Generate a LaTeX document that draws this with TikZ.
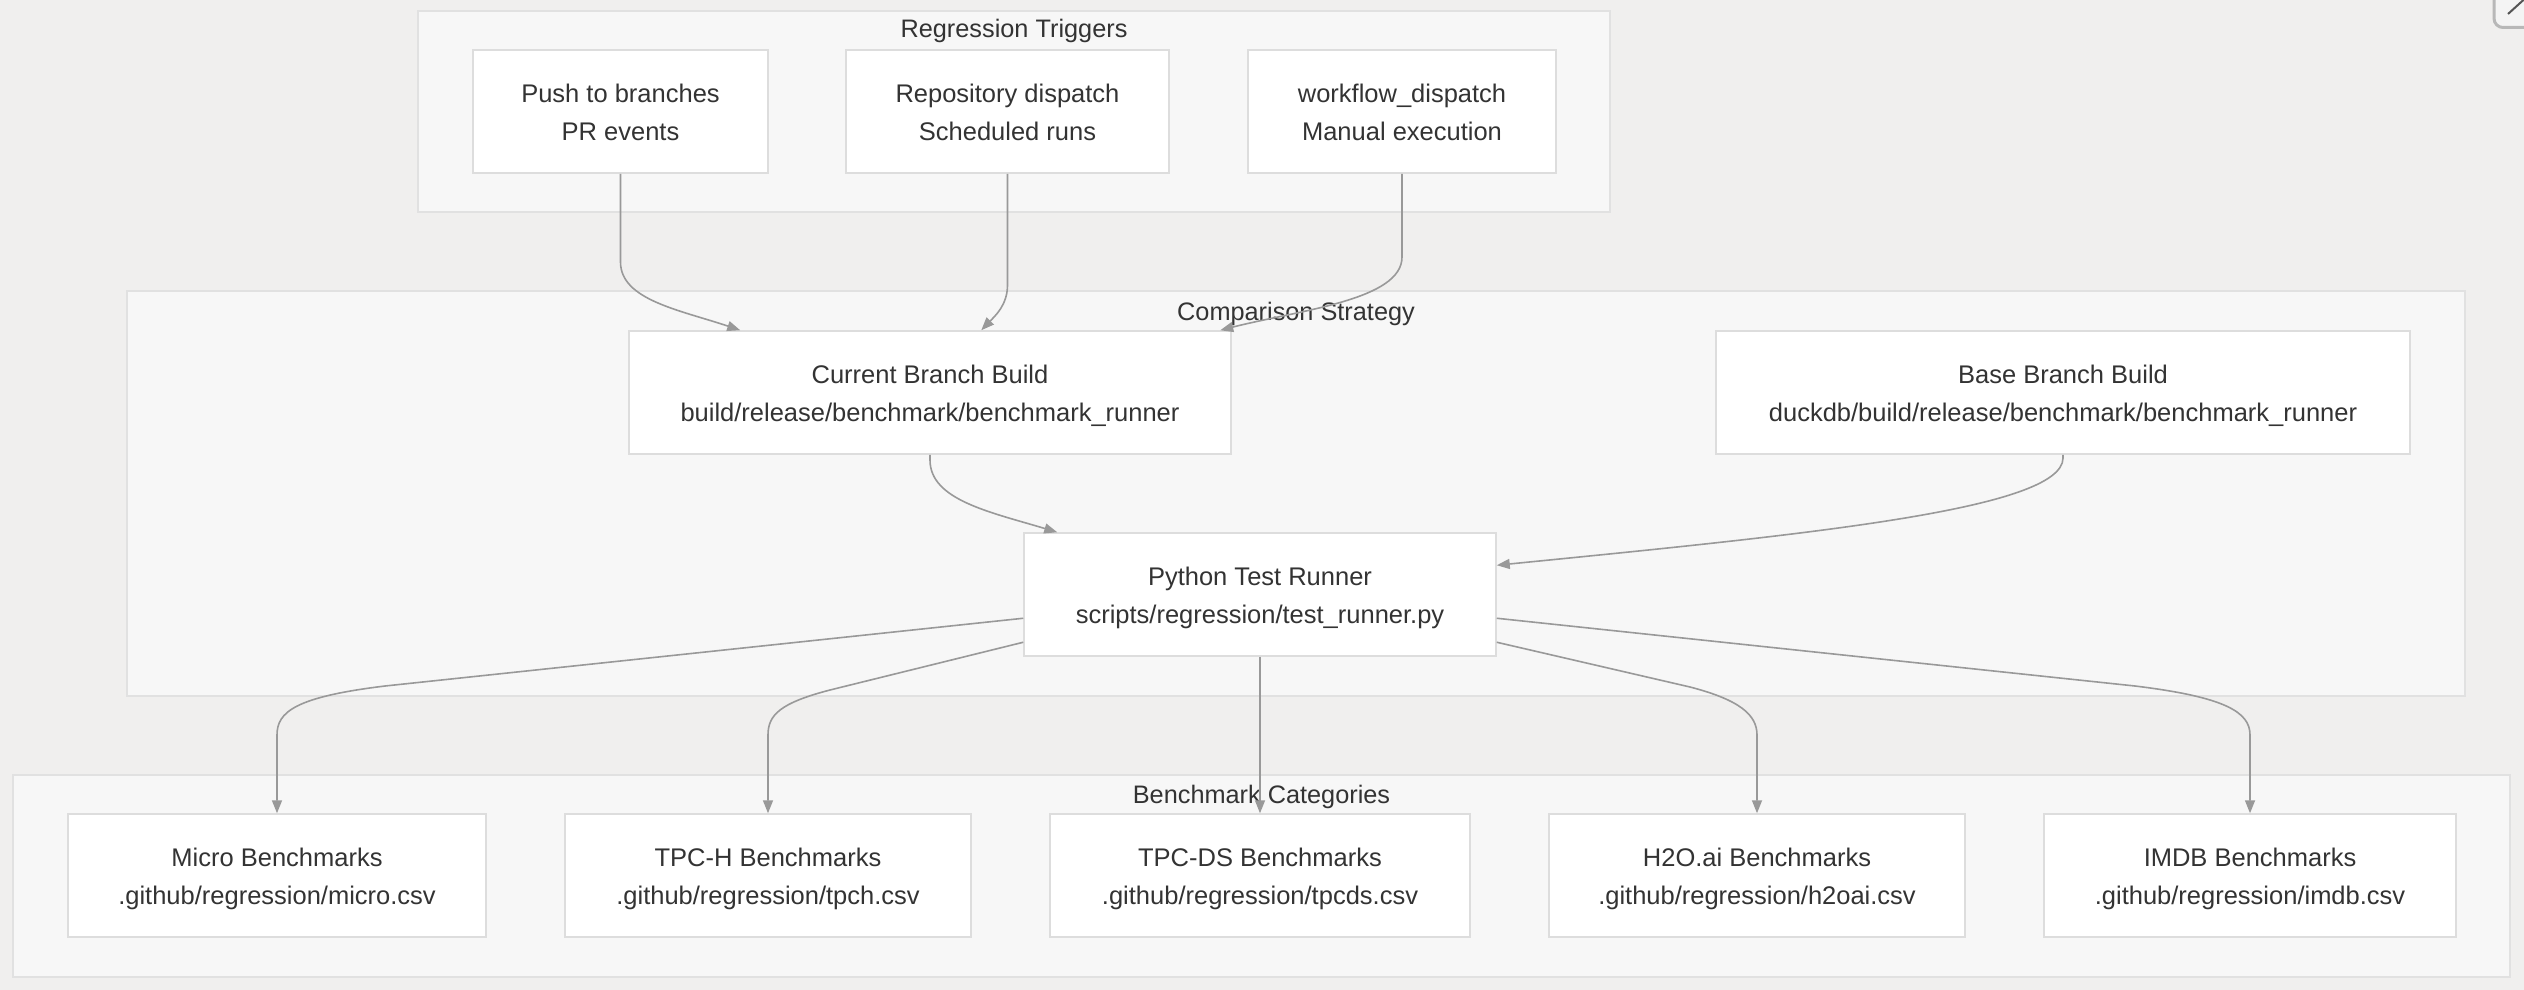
\documentclass[tikz,border=0pt]{standalone}
\usepackage{fontspec}
\setmainfont{Liberation Sans}
\usetikzlibrary{arrows.meta,calc}
\definecolor{bg}{HTML}{F0EFEE}
\definecolor{grpfill}{HTML}{F7F7F7}
\definecolor{grpline}{HTML}{E1E1E1}
\definecolor{nodeline}{HTML}{DDDDDD}
\definecolor{edgecol}{HTML}{999999}
\definecolor{txt}{HTML}{333333}
\definecolor{btnline}{HTML}{B8B8B8}
\definecolor{btnfill}{HTML}{F4F4F4}
\definecolor{btnmark}{HTML}{555555}
\newcommand\twoline[2]{\rule{0pt}{24.5pt}#1\\#2\rule[-5.5pt]{0pt}{5.5pt}}
\begin{document}
\begin{tikzpicture}[x=1pt,y=-1pt,
  grp/.style={draw=grpline, fill=grpfill, line width=1.5pt, inner sep=0pt},
  grptitle/.style={anchor=base, text=txt, inner sep=0pt, font=\fontsize{25.3}{30}\selectfont},
  box/.style={draw=nodeline, fill=white, line width=1.5pt, inner sep=0pt,
    minimum height=123pt, align=center, text=txt, font=\fontsize{25.5}{38}\selectfont},
  conn/.style={draw=edgecol, line width=1.6pt, -{Triangle[length=13pt,width=10pt]}}
]
\useasboundingbox (0,0) rectangle (2524,990);
\fill[bg] (0,0) rectangle (2524,990);

% groups
\node[grp, minimum width=1192pt, minimum height=201pt] (trig) at (1014,111.5) {};
\node[grp, minimum width=2338pt, minimum height=405pt] (comp) at (1296,493.5) {};
\node[grp, minimum width=2497pt, minimum height=202pt] (bench) at (1261.5,876) {};
\node[grptitle] (trigt) at (1014,38) {Regression Triggers};
\node[grptitle] (compt) at (1296,320) {Comparison Strategy};
\node[grptitle] (bencht) at (1261.5,803) {Benchmark Categories};

% trigger nodes
\node[box, minimum width=295pt] (push) at (620.5,111.5) {\twoline{Push to branches}{PR events}};
\node[box, minimum width=323pt] (repo) at (1007.5,111.5) {\twoline{Repository dispatch}{Scheduled runs}};
\node[box, minimum width=308pt] (wf) at (1402,111.5) {\twoline{workflow\_dispatch}{Manual execution}};

% comparison nodes
\node[box, minimum width=602pt] (cur) at (930,392.5) {\twoline{Current Branch Build}{build/release/benchmark/benchmark\_runner}};
\node[box, minimum width=694pt] (base) at (2063,392.5) {\twoline{Base Branch Build}{duckdb/build/release/benchmark/benchmark\_runner}};
\node[box, minimum width=472pt] (run) at (1260,594.5) {\twoline{Python Test Runner}{scripts/regression/test\_runner.py}};

% benchmark nodes
\node[box, minimum width=418pt] (micro) at (277,875.5) {\twoline{Micro Benchmarks}{.github/regression/micro.csv}};
\node[box, minimum width=406pt] (tpch) at (768,875.5) {\twoline{TPC-H Benchmarks}{.github/regression/tpch.csv}};
\node[box, minimum width=420pt] (tpcds) at (1260,875.5) {\twoline{TPC-DS Benchmarks}{.github/regression/tpcds.csv}};
\node[box, minimum width=416pt] (h2o) at (1757,875.5) {\twoline{H2O.ai Benchmarks}{.github/regression/h2oai.csv}};
\node[box, minimum width=412pt] (imdb) at (2250,875.5) {\twoline{IMDB Benchmarks}{.github/regression/imdb.csv}};

% connectors
\draw[conn] (push.south) -- (620.5,262) .. controls (620.5,300) and (680,310) .. ($(cur.north west)+(112,0)$);
\draw[conn] (repo.south) -- (1007.5,285) .. controls (1007.5,305) and (995,316) .. ($(cur.north west)+(353,0)$);
\draw[conn] (wf.south) -- (1402,257) .. controls (1402,300) and (1300,310) .. ($(cur.north west)+(592,0)$);
\draw[conn] (cur.south) -- (930,460) .. controls (930,500) and (990,512) .. ($(run.north west)+(34,0)$);
\draw[conn] (base.south) -- (2063,458) .. controls (2063,510) and (1800,535) .. ($(run.north east)+(0,33)$);
\draw[conn] ($(run.north west)+(0,86)$) -- (385,686) .. controls (295,697) and (277,712) .. (277,735) -- (micro.north);
\draw[conn] ($(run.north west)+(0,110)$) -- (830,690) .. controls (780,703) and (768,715) .. (768,735) -- (tpch.north);
\draw[conn] (run.south) -- (tpcds.north);
\draw[conn] ($(run.north east)+(0,110)$) -- (1690,687) .. controls (1740,700) and (1757,715) .. (1757,735) -- (h2o.north);
\draw[conn] ($(run.north east)+(0,86)$) -- (2135,686) .. controls (2225,697) and (2250,712) .. (2250,735) -- (imdb.north);

% corner button (partly outside the picture)
\begin{scope}
\clip (0,0) rectangle (2524,990);
\draw[draw=btnline, fill=btnfill, line width=3pt, rounded corners=9pt] (2494,-20) rectangle (2570,27.5);
\draw[btnmark, line width=2pt] (2508,14) -- (2530,-6);
\end{scope}
\end{tikzpicture}
\end{document}
